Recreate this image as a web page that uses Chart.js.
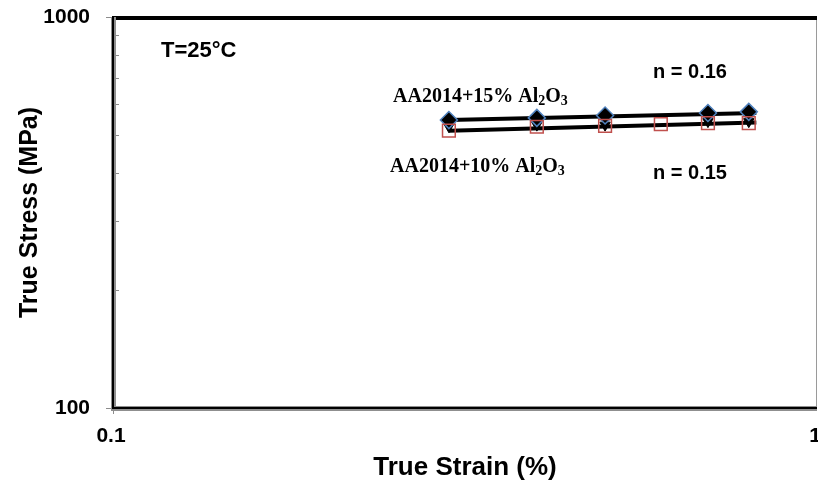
<!DOCTYPE html>
<html>
<head>
<meta charset="utf-8">
<script src="https://cdn.jsdelivr.net/npm/chart.js@4.4.0/dist/chart.umd.min.js"></script>
<style>
  html, body { margin: 0; padding: 0; background: #fff; }
  #wrap { width: 818px; height: 483px; }
</style>
</head>
<body>
<div id="wrap"><canvas id="stress"></canvas></div>
<script>
// measured points (log-log)
var strain15 = [0.3, 0.4, 0.5, 0.7, 0.8];
var stress15 = [545, 552, 560, 568, 572];
var tri15 = [524, 529, 529, 540, 540];
var strain10 = [0.3, 0.4, 0.5, 0.6, 0.7, 0.8];
var stress10 = [512, 524, 527, 532, 535, 535];
// power-law fit lines
var fitStrain = [0.3, 0.82];
var fit15 = [545, 568];
var fit10 = [512, 537];
// labelled ticks
var yTicks = [100, 1000];
var xTicks = [0.1, 1];

function pts(xs, ys) {
    return xs.map(function (x, i) { return { x: x, y: ys[i] }; });
}

function isTick(list, v) {
    return list.some(function (t) { return Math.abs(t - v) < 1e-9 * t; });
}

function sans(s) { return "bold " + s + "px 'Liberation Sans', Arial, sans-serif"; }

// text with subscripts: parts = [[text, isSub], ...]
function subText(ctx, parts, x, y, size) {
    parts.forEach(function (p) {
        var s = p[1] ? size * 0.7 : size;
        ctx.font = "bold " + s + "px 'Liberation Serif', 'Times New Roman', serif";
        ctx.fillText(p[0], x, p[1] ? y + 3 : y);
        x += ctx.measureText(p[0]).width;
    });
}

var framePlugin = {
    id: 'frame',
    beforeDatasetsDraw: function (chart) {
        var ctx = chart.ctx;
        var a = chart.chartArea;
        var ys = chart.scales.y;
        var xs = chart.scales.x;
        ctx.save();
        // minor ticks inside the left axis
        ctx.strokeStyle = '#8c8c8c';
        ctx.lineWidth = 1;
        [200, 300, 400, 500, 600, 700, 800, 900].forEach(function (v) {
            var py = Math.round(ys.getPixelForValue(v)) + 0.5;
            ctx.beginPath();
            ctx.moveTo(a.left, py);
            ctx.lineTo(a.left + 6, py);
            ctx.stroke();
        });
        // major ticks outside
        yTicks.forEach(function (v) {
            var py = Math.round(ys.getPixelForValue(v)) + 0.5;
            ctx.beginPath();
            ctx.moveTo(a.left - 7, py);
            ctx.lineTo(a.left, py);
            ctx.stroke();
        });
        ctx.beginPath();
        ctx.moveTo(a.left + 0.5, a.bottom);
        ctx.lineTo(a.left + 0.5, a.bottom + 6);
        ctx.stroke();
        // right border
        ctx.strokeStyle = '#9a9a9a';
        ctx.beginPath();
        ctx.moveTo(a.right - 0.5, a.top);
        ctx.lineTo(a.right - 0.5, a.bottom);
        ctx.stroke();
        // top border
        ctx.fillStyle = '#000';
        ctx.fillRect(a.left - 1, a.top - 1, a.right - a.left + 1, 4);
        // left and bottom axes: grey band with black core
        ctx.fillStyle = '#8f8f8f';
        ctx.fillRect(a.left - 2, a.top, 5, a.bottom - a.top + 3);
        ctx.fillRect(a.left - 2, a.bottom - 2, a.right - a.left + 2, 5);
        ctx.fillStyle = '#000';
        ctx.fillRect(a.left - 1, a.top, 2, a.bottom - a.top + 1);
        ctx.fillRect(a.left - 1, a.bottom - 1, a.right - a.left + 1, 2);
        // x tick labels, placed by the x scale
        ctx.font = sans(21);
        ctx.textAlign = 'center';
        ctx.textBaseline = 'alphabetic';
        xTicks.forEach(function (v) {
            ctx.fillText(String(v), xs.getPixelForValue(v) - 2, a.bottom + 34);
        });
        ctx.restore();
    },
    afterDatasetsDraw: function (chart) {
        var ctx = chart.ctx;
        ctx.save();
        ctx.fillStyle = '#000';
        ctx.textAlign = 'left';
        ctx.textBaseline = 'alphabetic';
        ctx.font = sans(22);
        ctx.fillText('T=25\u00B0C', 161, 57);
        ctx.font = sans(20);
        ctx.fillText('n = 0.16', 653, 78);
        ctx.fillText('n = 0.15', 653, 179);
        subText(ctx, [['AA2014+15% Al', false], ['2', true], ['O', false], ['3', true]], 393, 102, 20);
        subText(ctx, [['AA2014+10% Al', false], ['2', true], ['O', false], ['3', true]], 390, 172, 20);
        ctx.restore();
    }
};

var ctx = document.getElementById('stress');

var myChart = new Chart(ctx, {
    type: 'scatter',
    data: {
        datasets: [
            {
                label: 'fit 15%',
                data: pts(fitStrain, fit15),
                showLine: true,
                borderColor: '#000',
                borderWidth: 4,
                pointRadius: 0,
                order: 10
            },
            {
                label: 'fit 10%',
                data: pts(fitStrain, fit10),
                showLine: true,
                borderColor: '#000',
                borderWidth: 4,
                pointRadius: 0,
                order: 9
            },
            {
                label: 'tri',
                data: pts(strain15, tri15),
                pointStyle: 'triangle',
                rotation: 180,
                pointRadius: 6,
                backgroundColor: '#000',
                borderColor: '#000',
                borderWidth: 1,
                order: 5
            },
            {
                label: 'AA2014+15% Al2O3',
                data: pts(strain15, stress15),
                pointStyle: 'rectRot',
                pointRadius: 8.5,
                backgroundColor: '#000',
                borderColor: '#4f81bd',
                borderWidth: 1.5,
                order: 2
            },
            {
                label: 'AA2014+10% Al2O3',
                data: pts(strain10, stress10),
                pointStyle: 'rect',
                pointRadius: 9,
                backgroundColor: 'rgba(0,0,0,0)',
                borderColor: '#c0504d',
                borderWidth: 1.5,
                order: 1
            }
        ]
    },
    options: {
        responsive: true,
        maintainAspectRatio: false,
        animation: false,
        layout: { autoPadding: false, padding: { top: 17, right: 1, left: 0, bottom: 0 } },
        plugins: {
            legend: { display: false },
            tooltip: { enabled: false }
        },
        scales: {
            x: {
                type: 'logarithmic',
                min: 0.1,
                max: 1,
                border: { display: false },
                grid: { display: false },
                ticks: { display: false },
                title: {
                    display: true,
                    text: 'True Strain (%)',
                    color: '#000',
                    font: { family: "'Liberation Sans', Arial, sans-serif", size: 26, weight: 'bold' },
                    padding: { top: 0, bottom: 0 }
                },
                afterFit: function (s) {
                    s.height = 75;
                    s.paddingLeft = 0;
                    s.paddingRight = 0;
                }
            },
            y: {
                type: 'logarithmic',
                min: 100,
                max: 1000,
                border: { display: false },
                grid: { display: false, drawTicks: true, tickLength: 8 },
                ticks: {
                    autoSkip: false,
                    padding: 15,
                    color: '#000',
                    font: { family: "'Liberation Sans', Arial, sans-serif", size: 21, weight: 'bold' },
                    callback: function (v) { return isTick(yTicks, v) ? String(v) : ''; }
                },
                title: {
                    display: true,
                    text: 'True Stress (MPa)',
                    color: '#000',
                    font: { family: "'Liberation Sans', Arial, sans-serif", size: 25, weight: 'bold' },
                    padding: { top: 15, bottom: 0 }
                },
                afterFit: function (s) {
                    s.width = 113;
                    s.paddingTop = 0;
                    s.paddingBottom = 0;
                }
            }
        }
    },
    plugins: [framePlugin]
});
</script>
</body>
</html>
